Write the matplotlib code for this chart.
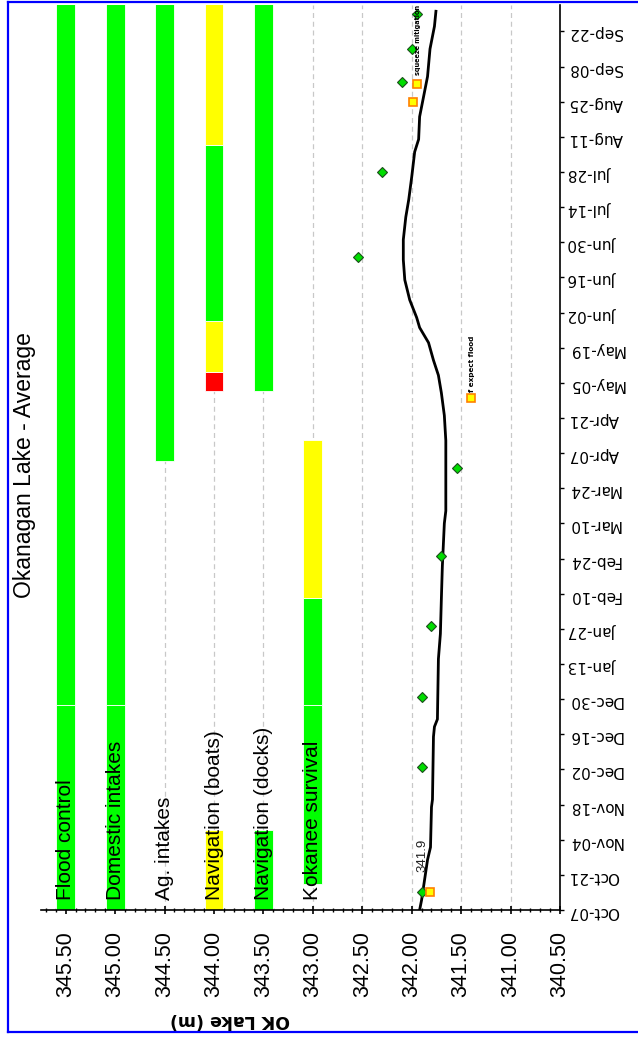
import matplotlib.pyplot as plt
import numpy as np
from matplotlib.lines import Line2D
from matplotlib.ticker import MultipleLocator

# time axis: days counted from Oct-07, one label every two weeks
date_labels = ["Oct-07", "Oct-21", "Nov-04", "Nov-18", "Dec-02", "Dec-16", "Dec-30",
               "Jan-13", "Jan-27", "Feb-10", "Feb-24", "Mar-10", "Mar-24", "Apr-07",
               "Apr-21", "May-05", "May-19", "Jun-02", "Jun-16", "Jun-30", "Jul-14",
               "Jul-28", "Aug-11", "Aug-25", "Sep-08", "Sep-22"]
date_days = [14 * i for i in range(len(date_labels))]

level_ticks = [345.5, 345.0, 344.5, 344.0, 343.5, 343.0, 342.5, 342.0, 341.5, 341.0, 340.5]

# average lake level curve
lake_days = [0, 4, 12, 20, 25, 41, 44, 69, 73, 76, 100, 110, 124, 137, 154, 159,
             187, 197, 206, 213, 219, 226, 232, 236, 243, 251, 259, 267, 276, 283,
             292, 302, 307, 316, 324, 332, 343, 352, 358]
lake_level = [341.92, 341.90, 341.87, 341.84, 341.81, 341.80, 341.79, 341.78, 341.77,
              341.74, 341.73, 341.71, 341.70, 341.69, 341.67, 341.655, 341.655, 341.67,
              341.70, 341.73, 341.78, 341.83, 341.92, 341.95, 342.02, 342.07, 342.085,
              342.085, 342.06, 342.03, 342.00, 341.97, 341.93, 341.92, 341.88, 341.84,
              341.815, 341.77, 341.755]

# observed points (green) and target points (orange)
obs_days = [7, 57, 85, 113, 141, 176, 260, 294, 330, 343, 357]
obs_level = [341.90, 341.90, 341.90, 341.80, 341.70, 341.545, 342.54, 342.30, 342.10, 342.00, 341.95]
target_days = [7, 204, 322, 329]
target_level = [341.82, 341.40, 341.99, 341.95]

# water-use status bars
use_names = ["Flood control", "Domestic intakes", "Ag. intakes",
             "Navigation (boats)", "Navigation (docks)", "Kokanee survival"]
use_level = [345.5, 345.0, 344.5, 344.0, 343.5, 343.0]
seg_use = [0, 0, 1, 1, 2, 3, 3, 3, 3, 3, 4, 4, 5, 5, 5]
seg_start = [0, 81.5, 0, 81.5, 179, 0, 206.8, 214.3, 234.7, 304.6, 0, 206.8, 10.4, 81.5, 124.3]
seg_end = [81.5, 361, 81.5, 361, 361, 31.9, 214.3, 234.7, 304.6, 361, 31.9, 361, 81.5, 124.3, 187.3]
seg_status = ["ok", "ok", "ok", "ok", "ok", "caution", "problem", "caution", "ok", "caution",
              "ok", "ok", "ok", "ok", "caution"]
status_colors = {"ok": "#00ff00", "caution": "#ffff00", "problem": "#ff0000"}

W, H = 638, 1038
fig = plt.figure(figsize=(W / 100, H / 100), dpi=100)
ax = fig.add_axes([41 / W, 128 / H, (560 - 41) / W, (910 - 5) / H])

ax.bar([use_level[i] for i in seg_use], np.subtract(seg_end, seg_start), bottom=seg_start,
       width=0.19, color=[status_colors[s] for s in seg_status],
       edgecolor="white", linewidth=0.6, zorder=2)

for name, lvl in zip(use_names, use_level):
    ax.text(lvl, 4, name, rotation=90, ha="center", va="bottom", fontsize=15,
            family="Liberation Sans", color="black", zorder=6)

ax.plot(lake_level, lake_days, color="black", lw=2, zorder=4)
ax.plot(obs_level, obs_days, ls="none", marker="D", ms=5.5, mfc="#00dd00",
        mec="#1b4d1b", mew=0.8, zorder=5)
ax.plot(target_level, target_days, ls="none", marker="s", ms=6, mfc="#ffff00",
        mec="#ff8000", mew=1.2, zorder=5)

ax.text(341.89, 15, "341.9", rotation=90, ha="center", va="bottom", fontsize=9.5,
        family="Liberation Sans", color="#222222", zorder=6)
ax.text(341.39, 206.5, "f expect flood", rotation=90, ha="center", va="bottom",
        fontsize=5.2, fontweight="bold", color="black", zorder=6)
ax.text(341.94, 332.5, "squeeze mitigation", rotation=90, ha="center", va="bottom",
        fontsize=4.7, fontweight="bold", color="black", zorder=6)

ax.set_xlim(345.75, 340.5)
ax.set_ylim(0, 360.5)

ax.set_xticks(level_ticks)
ax.set_xticklabels([f"{v:.2f}" for v in level_ticks], rotation=90, fontsize=15.5,
                   family="Liberation Sans")
ax.xaxis.set_minor_locator(MultipleLocator(0.1))
ax.tick_params(axis="x", which="major", direction="inout", length=6, width=1.2, pad=12)
ax.tick_params(axis="x", which="minor", direction="inout", length=3, width=1)

ax.yaxis.tick_right()
ax.set_yticks(date_days)
ax.set_yticklabels(date_labels, rotation=180, fontsize=11, family="DejaVu Sans")
ax.tick_params(axis="y", direction="out", length=3, width=1, pad=3)

ax.grid(axis="x", which="major", color="#c8c8c8", linestyle=(0, (4, 3)), lw=0.9)
ax.set_axisbelow(True)

for side in ("left", "top"):
    ax.spines[side].set_visible(False)
for side in ("bottom", "right"):
    ax.spines[side].set_linewidth(1.2)

fig.text(25 / W, 1 - 465 / H, "Okanagan Lake - Average", rotation=90, ha="center",
         va="center", fontsize=16.5, family="Liberation Sans")
fig.text(230 / W, 1 - 1020 / H, "OK Lake (m)", rotation=180, ha="center", va="center",
         fontsize=12.5, fontweight="bold")

# blue frame around the chart
for xs, ys in [((8 / W, 8 / W), (6 / H, 1 - 2 / H)),
               ((8 / W, 1), (1 - 2 / H, 1 - 2 / H)),
               ((8 / W, 1), (6 / H, 6 / H))]:
    fig.add_artist(Line2D(xs, ys, color="#0000ff", lw=1.6))

fig.savefig("out.png", dpi=100)
